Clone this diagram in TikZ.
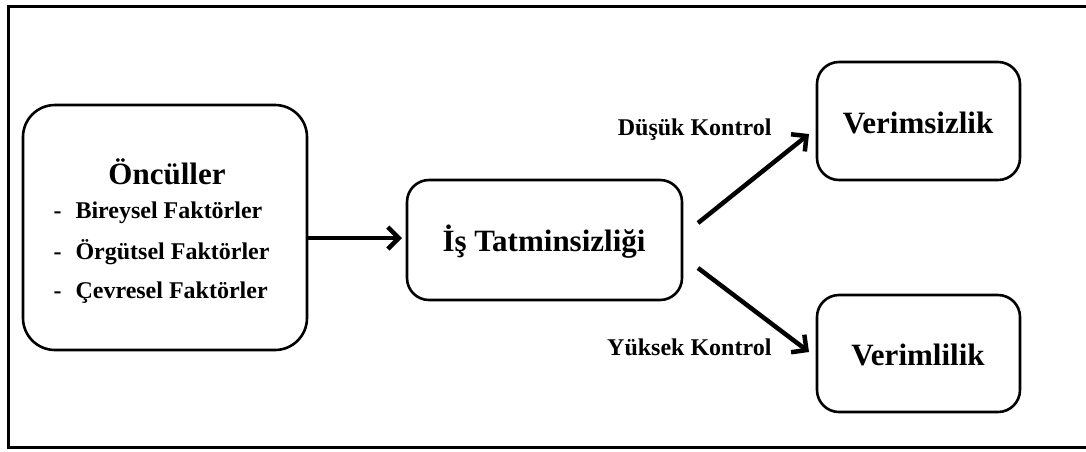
\documentclass[tikz,border=0pt]{standalone}
\usepackage{fontspec}
\setmainfont{Liberation Serif}
\usetikzlibrary{arrows.meta}
\begin{document}
\begin{tikzpicture}[x=1pt,y=-1pt,
  box/.style={draw, line width=2.6pt, rounded corners=#1, inner sep=0pt},
  box/.default=22pt,
  big/.style={font=\fontsize{31}{36}\selectfont\bfseries},
  small/.style={font=\fontsize{24}{28}\selectfont\bfseries},
  flow/.style={line width=4.5pt, -{Straight Barb[length=11pt,width=22pt,line width=4.5pt]}}]
  \useasboundingbox (0,0) rectangle (1086,451);
  % outer frame, open to the right
  \begin{scope}
    \clip (0,0) rectangle (1086,451);
    \draw[line width=3.5pt] (1100,6.5) -- (8.5,6.5) -- (8.5,447.5) -- (1100,447.5);
  \end{scope}

  % boxes
  \draw[box=32pt] (23,105) rectangle (307,350);
  \node[big] (onc) at (167,172) {Öncüller};
  \node[small, anchor=west] (b1) at (50,213) {-\hspace{14pt}Bireysel Faktörler};
  \node[small, anchor=west] (b2) at (50,252) {-\hspace{14pt}Örgütsel Faktörler};
  \node[small, anchor=west] (b3) at (50,293) {-\hspace{14pt}Çevresel Faktörler};
  \coordinate (oncR) at (308,238);

  \node[box, minimum width=275pt, minimum height=120pt] (is) at (544.5,240) {};
  \node[big] at (544,242) {İş Tatminsizliği};

  \node[box, minimum width=203pt, minimum height=118pt] (vs) at (918.5,121) {};
  \node[big] at (918,123) {Verimsizlik};

  \node[box, minimum width=203pt, minimum height=117pt] (vl) at (918.5,353.5) {};
  \node[big] at (918,355) {Verimlilik};

  % connectors
  \coordinate (isUp) at (698,223);
  \coordinate (isDn) at (698,268);
  \coordinate (vsIn) at (809,134);
  \coordinate (vlIn) at (809,352);
  \coordinate (isIn) at (402,238);
  \draw[flow] (oncR) -- (isIn);
  \draw[flow] (isUp) -- (vsIn);
  \draw[flow] (isDn) -- (vlIn);

  \node[small, anchor=east] (dk) at (775,130) {Düşük Kontrol};
  \node[small, anchor=east] (yk) at (775,347) {Yüksek Kontrol};
\end{tikzpicture}
\end{document}
